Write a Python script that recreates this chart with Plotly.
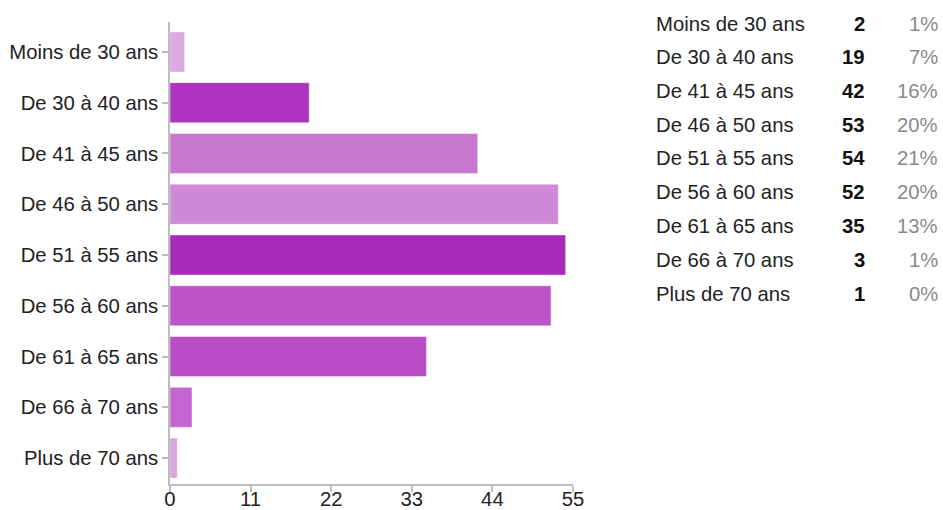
import plotly.graph_objects as go

# Age brackets and respondent counts
categories = ["Moins de 30 ans", "De 30 à 40 ans", "De 41 à 45 ans", "De 46 à 50 ans",
              "De 51 à 55 ans", "De 56 à 60 ans", "De 61 à 65 ans", "De 66 à 70 ans",
              "Plus de 70 ans"]
counts = [2, 19, 42, 53, 54, 52, 35, 3, 1]
bar_colors = ["#dcaadf", "#b034bf", "#c877cf", "#cf8ad7", "#a82ab9",
              "#bb55c8", "#b94ec6", "#c466cf", "#dba6df"]
x_ticks = [0, 11, 22, 33, 44, 55]

total = sum(counts)
percents = [f"{round(100 * c / total)}%" for c in counts]

FONT = "Liberation Sans, Arial, Helvetica, sans-serif"
FS = 20.3

fig = go.Figure(go.Bar(
    x=counts,
    y=list(range(len(categories))),
    orientation="h",
    width=0.79,
    marker=dict(color=bar_colors, line=dict(color="rgba(255,255,255,0.45)", width=1)),
    hoverinfo="skip",
))

fig.update_layout(
    width=943, height=510,
    margin=dict(l=170, r=370, t=22, b=26),
    paper_bgcolor="white", plot_bgcolor="white",
    showlegend=False,
    font=dict(family=FONT, size=FS, color="#222222"),
    xaxis=dict(
        range=[0, 55], tickvals=x_ticks, ticktext=[str(v) for v in x_ticks],
        showgrid=False, zeroline=False, automargin=False,
        showline=True, linecolor="#bdbdbd", linewidth=1.5,
        ticks="outside", ticklen=6, tickcolor="#bdbdbd", tickwidth=1.5,
        ticklabelstandoff=-10,
        tickfont=dict(family=FONT, size=FS, color="#222222"),
        fixedrange=True,
    ),
    yaxis=dict(
        range=[8.51, -0.59],
        tickvals=list(range(len(categories))), ticktext=categories,
        showgrid=False, zeroline=False, automargin=False,
        showline=True, linecolor="#bdbdbd", linewidth=1.5,
        ticks="outside", ticklen=6, tickcolor="#bdbdbd", tickwidth=1.5,
        ticklabelstandoff=0,
        tickfont=dict(family=FONT, size=FS, color="#222222"),
        fixedrange=True,
    ),
)

# Summary table to the right of the chart
plot_left, plot_w = 170, 403
plot_bottom, plot_h = 484, 462


def px_x(p):
    return (p - plot_left) / plot_w


def px_y(p):
    return (plot_bottom - p) / plot_h


for i, (cat, n, pct) in enumerate(zip(categories, counts, percents)):
    yy = px_y(23.5 + 33.75 * i)
    fig.add_annotation(x=px_x(654), y=yy, xref="paper", yref="paper",
                       text=cat, showarrow=False, xanchor="left", yanchor="middle",
                       font=dict(family=FONT, size=FS, color="#222222"))
    fig.add_annotation(x=px_x(867), y=yy, xref="paper", yref="paper",
                       text=f"<b>{n}</b>", showarrow=False, xanchor="right", yanchor="middle",
                       font=dict(family=FONT, size=FS, color="#111111"))
    fig.add_annotation(x=px_x(940), y=yy, xref="paper", yref="paper",
                       text=pct, showarrow=False, xanchor="right", yanchor="middle",
                       font=dict(family=FONT, size=FS, color="#8a8a8a"))

fig.write_html("out.html")
